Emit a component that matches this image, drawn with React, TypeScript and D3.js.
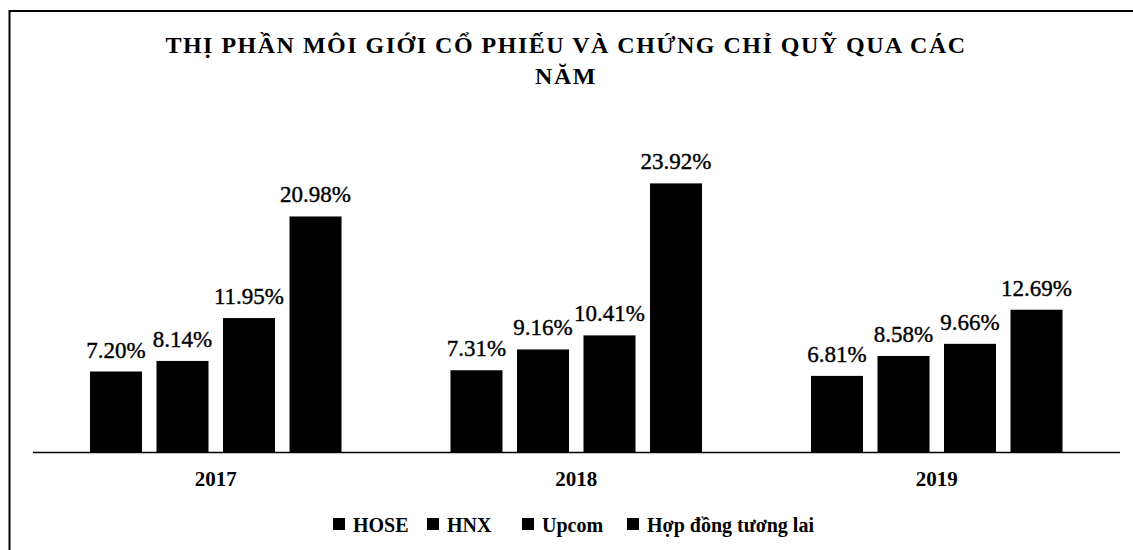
import React from "react";
import * as d3 from "d3";

const years = ["2017", "2018", "2019"];
const seriesNames = ["HOSE", "HNX", "Upcom", "Hợp đồng tương lai"];
const hose = [7.2, 7.31, 6.81];
const hnx = [8.14, 9.16, 8.58];
const upcom = [11.95, 10.41, 9.66];
const futures = [20.98, 23.92, 12.69];
const seriesValues = [hose, hnx, upcom, futures];
const titleLines = ["THỊ PHẦN MÔI GIỚI CỔ PHIẾU VÀ CHỨNG CHỈ QUỸ QUA CÁC", "NĂM"];

const W = 1133;
const H = 550;
const FONT = "Liberation Serif, DejaVu Serif, serif";

export default function App() {
  const baseY = 452.5;
  const x0 = d3.scaleBand<string>().domain(years).range([35.5, 1117]).paddingInner(0.262).paddingOuter(0.131);
  const x1 = d3
    .scaleBand<string>()
    .domain(seriesNames)
    .range([0, x0.bandwidth()])
    .paddingInner(0.218)
    .paddingOuter(0.109);
  const y = d3.scaleLinear().domain([0, 25]).range([baseY, baseY - 281.25]);

  const fmt = (v: number) => d3.format(".2f")(v) + "%";

  const legendX = [333, 427, 522, 627];

  return (
    <svg
      width={W}
      height={H}
      fontFamily={FONT}
      style={{ position: "absolute", left: 0, top: 0, background: "#fff" }}
    >
      <rect x={0} y={0} width={W} height={H} fill="#fff" />
      {/* frame */}
      <line x1={9.5} y1={11} x2={W} y2={11} stroke="#000" strokeWidth={2} />
      <line x1={9.5} y1={10} x2={9.5} y2={H} stroke="#000" strokeWidth={2} />

      {/* title */}
      {titleLines.map((t, i) => (
        <text
          key={i}
          x={566}
          y={53 + i * 31}
          textAnchor="middle"
          fontSize={24}
          fontWeight="bold"
          letterSpacing={1.5}
          fill="#000"
        >
          {t}
        </text>
      ))}

      {/* bars */}
      {years.map((yr, gi) => (
        <g key={yr} transform={`translate(${x0(yr)},0)`}>
          {seriesNames.map((s, si) => {
            const v = seriesValues[si][gi];
            const bx = x1(s)!;
            const bw = x1.bandwidth();
            return (
              <g key={s}>
                <rect x={bx} y={y(v)} width={bw} height={baseY - y(v)} fill="#000" />
                <text
                  x={bx + bw / 2}
                  y={y(v) - 14}
                  textAnchor="middle"
                  fontSize={23}
                  fill="#000"
                  stroke="#000"
                  strokeWidth={0.4}
                >
                  {fmt(v)}
                </text>
              </g>
            );
          })}
          <text
            x={x0.bandwidth() / 2}
            y={486}
            textAnchor="middle"
            fontSize={21}
            fontWeight="bold"
            fill="#000"
          >
            {yr}
          </text>
        </g>
      ))}

      {/* axis baseline */}
      <line x1={33} y1={baseY} x2={1120} y2={baseY} stroke="#000" strokeWidth={1.5} />

      {/* legend */}
      {seriesNames.map((s, i) => (
        <g key={s} transform={`translate(${legendX[i]},0)`}>
          <rect x={0} y={518} width={12} height={12} fill="#000" />
          <text x={20} y={532} fontSize={20} fontWeight="bold" fill="#000">
            {s}
          </text>
        </g>
      ))}
    </svg>
  );
}
